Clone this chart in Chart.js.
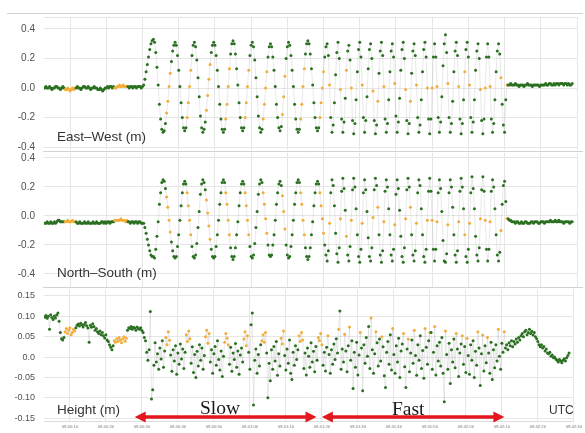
<!DOCTYPE html>
<html><head><meta charset="utf-8">
<script src="https://cdn.jsdelivr.net/npm/chart.js@4.4.1/dist/chart.umd.min.js"></script>
<style>
html,body{margin:0;padding:0;background:#fff;width:585px;height:433px;overflow:hidden;font-family:"Liberation Sans",Arial,sans-serif;}
#wrap{position:relative;width:585px;height:433px;overflow:hidden;}
canvas{position:absolute;left:0;}
.sep{position:absolute;height:1px;background:#d2d2d2;}
.lbl{position:absolute;font-size:13.5px;color:#333;line-height:1;white-space:nowrap;}
.ph{position:absolute;font-family:"Liberation Serif","Times New Roman",serif;font-size:19.5px;color:#1a1a1a;line-height:1;white-space:nowrap;}
</style></head><body><div id="wrap">
<div class="sep" style="top:13px;left:7px;width:576px"></div>
<div class="sep" style="top:151px;left:43px;width:540px"></div>
<div class="sep" style="top:287px;left:43px;width:540px"></div>
<canvas id="c1" width="585" height="165" style="top:1px"></canvas>
<canvas id="c2" width="585" height="166" style="top:137px"></canvas>
<canvas id="c3" width="585" height="164" style="top:273px"></canvas>
<div class="lbl" style="left:57px;top:130px">East–West (m)</div>
<div class="lbl" style="left:57px;top:266px">North–South (m)</div>
<div class="lbl" style="left:57px;top:403px">Height (m)</div>
<div class="lbl" style="left:549px;top:404px;font-size:12px">UTC</div>
<div class="ph" style="left:200px;top:398px">Slow</div>
<div class="ph" style="left:392px;top:399px">Fast</div>
</div>
<script>
// sampling grid (seconds relative to first labelled tick)
const t0 = -7, dt = 1/3;
const xTickValues = [0,10,20,30,40,50,60,70,80,90,100,110,120,130,140];
const xTickLabels = ['09:40:10','09:40:20','09:40:30','09:40:40','09:40:50','09:41:00','09:41:10','09:41:20','09:41:30','09:41:40','09:41:50','09:42:00','09:42:10','09:42:20','09:42:30'];
const posTicks = [-0.4,-0.2,0,0.2,0.4];
const posTickLabels = ['-0.4','-0.2','0.0','0.2','0.4'];
const hTicks = [-0.15,-0.1,-0.05,0,0.05,0.1,0.15];
const hTickLabels = ['-0.15','-0.10','-0.05','0.0','0.05','0.10','0.15'];
// epochs with float (non-fixed) solutions
const floatRanges = [[17,25],[58,68],[101,104],[118,121],[134,137],[150,153],[166,169],[181,184],[197,199],[212,215],[228,231]];
const floatEpochs = [236,245,250,254,263,272,276,281,290,299,303,308,317,321,325,334,343,348,352,361,365,369,378,383];
// motion phases (seconds)
const phases = [{name:'Slow',from:18,to:68.5},{name:'Fast',from:70,to:120.7}];

const eastWest = [
 0,.01,0,0,.01,0,-.01,0,0,.01,.01,0,0,-.01,0,.01,0,
 -.01,-.01,0,-.01,-.02,-.01,0,-.01,0,
 0,.01,0,0,-.01,0,.01,.01,0,0,.01,0,-.01,0,0,.01,0,0,-.01,-.01,0,-.01,-.02,-.01,0,0,.01,0,.01,.01,0,.01,0,0,
 .01,.01,.02,.01,.01,.02,.01,.01,.01,
 .01,0,.01,.01,0,.01,.01,0,.01,.01,.01,0,.01,
 .02,.06,.11,.16,.21,.26,.30,.32,.33,
 .31,.24,.14,.02,-.11,-.21,-.28,-.30, -.29,-.24,-.17,-.09,.01,.10,.18,.25,.29,.31,
 .29,.22,.12,.01,-.10,-.20,-.27,-.29, -.27,-.20,-.10,.01,.12,.22,.29,.31,
 .28,.19,.07,-.06,-.19,-.27,-.30, -.28,-.23,-.15,-.05,.06,.16,.24,.29,.31,
 .29,.22,.12,.01,-.11,-.21,-.28,-.30, -.28,-.21,-.11,.01,.13,.23,.30,.32,
 .30,.23,.13,.02,-.10,-.20,-.27,-.29, -.27,-.20,-.10,.01,.12,.22,.29,.31,
 .28,.19,.07,-.06,-.19,-.27,-.30, -.28,-.21,-.11,0,.11,.21,.28,.30,
 .28,.21,.12,.01,-.11,-.20,-.27,-.29, -.26,-.18,-.06,.08,.20,.28,.31,
 .29,.22,.12,.01,-.11,-.21,-.28,-.30, -.28,-.21,-.11,.01,.13,.23,.30,.32,
 .30,.23,.13,.02,-.10,-.20,-.27,-.29, -.27,-.20,-.10,0,.11,.21,.28,.30,
 .22,.02,-.20,-.30, -.25,-.10,.09,.24,.31,
 .20,-.01,-.21,-.30, -.23,-.07,.12,.25,.29,
 .19,.00,-.22,-.31, -.24,-.08,.11,.26,.31,
 .21,.02,-.20,-.30, -.22,-.06,.13,.26,.30,
 .20,-.02,-.22,-.31, -.25,-.09,.10,.25,.31,
 .22,.01,-.21,-.30, -.24,-.08,.11,.25,.30,
 .21,.03,-.19,-.30, -.23,-.07,.12,.26,.31,
 .20,-.01,-.22,-.31, -.24,-.09,.10,.25,.30,
 .22,.02,-.20,-.30, -.25,-.08,.11,.26,.31,
 .21,.00,-.21,-.31, -.21,.00,.21,.30,
 .21,.01,-.20,-.30, -.23,-.06,.15,.30,.36,
 .24,.03,-.20,-.30, -.24,-.09,.11,.25,.31,
 .22,.01,-.21,-.31, -.24,-.08,.11,.26,.31,
 .21,.02,-.20,-.30, -.23,-.08,.12,.25,.30,
 .20,-.01,-.22,-.31, -.21,.00,.21,.30,
 .21,.01,-.21,-.30, -.24,-.08,.11,.25,.30,
 .23,.07,-.11,-.25,-.30, -.08,.02,
 .02,.02,.03,.02,.02,.02,.03,.02,.02,.01,
 .02,.02,.02,.01,.02,.02,.03,.02,.02,.02,
 .01,.02,.02,.02,.02,.02,.01,.02,.02,.02,
 .02,.03,.02,.02,.03,.03,.02,.02,.03,.02,
 .03,.03,.02,.03,.03,.03,.02,.03,.03,.02,
 .03,.02,.02,.03
];

const northSouth = [
 -.05,-.05,-.04,-.05,-.05,-.04,-.05,-.05,-.04,-.05,-.04,-.03,-.03,-.04,-.04,-.04,-.04,
 -.04,-.04,-.03,-.04,-.04,-.04,-.03,-.04,-.04,
 -.04,-.05,-.05,-.04,-.05,-.05,-.05,-.04,-.05,-.05,-.04,-.05,-.05,-.05,-.04,-.05,-.05,-.04,-.05,-.05,-.05,-.04,-.04,-.05,-.04,-.05,-.04,-.04,-.05,-.04,-.04,-.04,-.03,-.03,
 -.03,-.03,-.03,-.02,-.03,-.03,-.03,-.04,-.03,
 -.04,-.04,-.05,-.04,-.04,-.05,-.04,-.04,-.05,-.04,-.04,-.05,-.05,
 -.05,-.08,-.12,-.16,-.20,-.24,-.27,-.28,-.28,
 -.29,-.23,-.14,-.04,.08,.16,.23,.25, .24,.19,.13,.06,-.03,-.11,-.18,-.24,-.28,-.29,
 -.28,-.21,-.13,-.03,.07,.16,.22,.24, .22,.16,.07,-.03,-.13,-.21,-.28,-.29,
 -.27,-.19,-.08,.03,.15,.22,.25, .23,.18,.11,.02,-.07,-.16,-.23,-.28,-.29,
 -.28,-.21,-.13,-.03,.08,.16,.23,.25, .23,.16,.08,-.03,-.13,-.22,-.28,-.30,
 -.28,-.22,-.13,-.04,.07,.16,.22,.24, .22,.16,.07,-.03,-.13,-.21,-.28,-.29,
 -.27,-.19,-.08,.03,.15,.22,.25, .23,.16,.08,-.02,-.12,-.20,-.27,-.28,
 -.27,-.20,-.13,-.03,.08,.16,.22,.24, .21,.14,.03,-.09,-.20,-.27,-.29,
 -.28,-.21,-.13,-.03,.08,.16,.23,.25, .23,.16,.08,-.03,-.13,-.22,-.28,-.30,
 -.28,-.22,-.13,-.04,.07,.16,.22,.24, .22,.16,.07,-.02,-.12,-.20,-.27,-.31,
 -.24,-.05,.16,.25, .21,.07,-.12,-.26,-.32,
 -.22,-.02,.17,.26, .19,.04,-.14,-.27,-.31,
 -.21,-.03,.18,.26, .20,.05,-.13,-.28,-.32,
 -.23,-.05,.16,.25, .18,.03,-.15,-.28,-.31,
 -.22,-.01,.18,.26, .21,.06,-.13,-.27,-.32,
 -.24,-.04,.17,.25, .20,.05,-.13,-.27,-.31,
 -.23,-.06,.15,.25, .19,.04,-.14,-.28,-.32,
 -.22,-.02,.18,.26, .20,.06,-.13,-.27,-.31,
 -.24,-.05,.16,.25, .21,.05,-.13,-.28,-.32,
 -.23,-.03,.17,.26, .17,-.03,-.23,-.31,
 -.23,-.04,.16,.25, .19,.03,-.17,-.31,-.32,
 -.26,-.06,.16,.25, .20,.06,-.13,-.27,-.32,
 -.24,-.04,.17,.26, .20,.05,-.13,-.28,-.32,
 -.23,-.05,.16,.27, .19,.05,-.14,-.27,-.31,
 -.22,-.02,.18,.27, .17,-.03,-.23,-.31,
 -.23,-.04,.17,.25, .20,.05,-.13,-.27,-.31,
 -.25,-.10,.08,.21,.24, .10,-.02,
 -.02,-.03,-.03,-.04,-.04,-.04,-.05,-.04,-.04,-.05,
 -.05,-.04,-.05,-.05,-.04,-.04,-.05,-.05,-.05,-.04,
 -.04,-.05,-.04,-.04,-.04,-.05,-.05,-.04,-.04,-.04,
 -.05,-.04,-.04,-.04,-.04,-.03,-.04,-.04,-.04,-.03,
 -.04,-.04,-.03,-.04,-.04,-.04,-.05,-.04,-.04,-.04,
 -.04,-.05,-.04,-.04
];

const height = [
 .098,.102,.095,.100,.068,.104,.097,.092,.101,.096,.103,.108, .088,.060,.045,.042,.048,
 .062,.070,.058,.066,.072,.055,.060,.068,.064,
 .072,.078,.081,.076,.083,.079,.074,.080,.085,.077,.071,.036,.078,.073,.082,.075,.066,.070,.062,.058,.064,.055,
 .060,.052,.047,.055,.042,.038,.030,.024,.018,.028,
 .040,.036,.045,.038,.048,.042,.035,.044,.050,.039,.046,
 .066,.072,.070,.075,.068,.073,.071,.066,.074,.070,.068,.072,.065,.060,.048,
 .040,.012,-.008,.018,.112,-.103,
 -.080,-.020,.035,-.012,.008,-.030,.022,-.005,.040,-.025,
 .015,.048,.030,.062,.041,.005,-.035,.018,-.010,.028,
 -.042,.010,-.018,.032,-.005,.020,-.028,.012,.055,.038,
 .064,.045,-.015,.025,-.038,.006,-.050,.014,-.022,.030,
 -.008,.022,-.030,.004,.050,.066,.034,.058,-.012,.018,
 -.040,.008,.026,-.020,.040,-.006,-.032,.015,-.048,.002,
 .036,.058,.046,.030,-.018,.024,-.035,.010,-.006,.033,
 -.025,.015,-.042,.005,.022,-.012,.044,.062,.028,.052,
 .012,-.030,.079,.108,-.118,-.008,.020,-.040,.006,-.022,
 .030,.040,.055,.036,.060,.010,-.100,-.015,-.058,.018,
 -.030,.026,-.010,.038,-.045,.008,-.022,.046,.032,.064,
 .004,-.032,.020,-.015,.042,-.040,-.055,.012,-.020,.028,
 -.006,.018,.052,.038,.060,.042,-.028,.010,-.044,.022,
 .002,-.025,.035,-.012,.014,-.036,.026,-.008,.048,.040,
 .058,.030,-.020,.012,-.034,.024,.052,.006,-.040,.018,
 -.018,.032,-.006,.045,.010,.068,.113,-.030,.020,-.012,
 .056,.015,-.036,.028,.074,-.008,.040,-.077,.012,-.025,
 .036,-.044,.005,.060,.022,-.083,.030,-.015,.048,.002,
 .075,-.028,.096,.018,-.040,.008,.062,.035,-.022,.044,
 -.010,.050,.025,-.046,-.075,.012,.038,-.018,.055,-.032,
 .070,.006,-.040,.028,-.012,.046,-.050,.015,.032,.058,
 -.024,-.075,.020,.044,-.036,.010,.042,-.015,.066,.004,
 -.045,.030,-.008,.052,-.028,.016,-.052,.070,.024,-.018,
 .040,.060,.060,-.030,.012,.075,-.044,.028,-.010,.036,
 -.022,.048,-.040,-.110,.064,.006,-.030,.034,-.065,.018,
 -.012,.044,-.026,.058,.020,-.048,.010,.032,.052,-.018,
 .026,-.038,.046,.004,-.042,.030,-.008,.040,-.050,.014,
 -.020,.062,.022,-.070,.008,.054,-.034,.028,-.014,.048,
 .010,-.040,.036,-.055,.018,-.026,.030,-.010,.068,.002,
 -.030,.034,.012,.062,
 .022,.030,.018,.035,.028,.040,.025,.038,.032,.044,.036,.048,.042,
 .052,.058,.050,.062,.066,.055,.060,.068,.058,.063,.054,.060,.050,.045,
 .038,.030,.025,.030,.022,.026,.015,.020,.010,.008,.012,.002,.005,-.002,.000,
 -.005,-.008,-.012,-.006,-.010,-.014,-.008,-.004,-.010,-.002,.004,.010
];

const GREEN = '#2a7020', ORANGE = '#f2ad3a';
const floatSet = new Set(floatEpochs);
floatRanges.forEach(([a,b]) => { for (let i=a;i<=b;i++) floatSet.add(i); });

function toPoints(vals){ return vals.map((v,i)=>({x: t0 + i*dt, y: v})); }

const phaseArrows = {
  id:'phaseArrows',
  afterDatasetsDraw(chart){
    const {ctx, chartArea} = chart; const x = chart.scales.x;
    const y = chartArea.bottom - 4;
    ctx.save();
    ctx.fillStyle = '#e3171c'; ctx.strokeStyle = '#e3171c'; ctx.lineWidth = 3.5;
    phases.forEach(p => {
      const a = x.getPixelForValue(p.from), b = x.getPixelForValue(p.to);
      const h = 11, w = 5.5;
      ctx.beginPath(); ctx.moveTo(a+h-1,y); ctx.lineTo(b-h+1,y); ctx.stroke();
      ctx.beginPath(); ctx.moveTo(a,y); ctx.lineTo(a+h,y-w); ctx.lineTo(a+h,y+w); ctx.closePath(); ctx.fill();
      ctx.beginPath(); ctx.moveTo(b,y); ctx.lineTo(b-h,y-w); ctx.lineTo(b-h,y+w); ctx.closePath(); ctx.fill();
    });
    ctx.restore();
  }
};

function makeChart(id, vals, yMin, yMax, ticks, labels, fontSize, bottomAxis, extraTop){
  const yT = extraTop ? ticks.concat([yMax]) : ticks;
  return new Chart(document.getElementById(id), {
    type:'line',
    data:{datasets:[{
      data: toPoints(vals),
      borderColor:'rgba(150,150,150,0.35)', borderWidth:0.6,
      pointRadius:1.5, pointBorderWidth:0, pointHoverRadius:1.5,
      pointBackgroundColor: c => floatSet.has(c.dataIndex) ? ORANGE : GREEN,
      tension:0
    }]},
    plugins: bottomAxis ? [phaseArrows] : [],
    options:{
      responsive:false, maintainAspectRatio:false, animation:false, events:[],
      layout:{padding:{top:16,bottom:bottomAxis?4:16,left:0,right:8}},
      plugins:{legend:{display:false},tooltip:{enabled:false}},
      scales:{
        x:{type:'linear', min:-7.2, max:140,
          afterBuildTicks: s => { s.ticks = xTickValues.map(v=>({value:v})); },
          afterFit: s => { s.height = bottomAxis ? 12 : 0; },
          grid:{color:'#e6e6e6', drawTicks:false},
          border:{display:bottomAxis, color:'#dcdcdc'},
          ticks:{display:bottomAxis, padding:3, color:'#7a7a7a', font:{size:4.2},
            maxRotation:0, autoSkip:false,
            callback: v => { const k = xTickValues.indexOf(v); return k>=0 ? xTickLabels[k] : ''; }}
        },
        y:{min:yMin, max:yMax,
          afterBuildTicks: s => { s.ticks = yT.map(v=>({value:v})); },
          afterFit: s => { s.width = 44; },
          grid:{color:'#e6e6e6', drawTicks:false},
          border:{display:false},
          ticks:{padding:9, color:'#505050', autoSkip:false,
            font:{size:fontSize, family:'"Liberation Sans", Arial, sans-serif'},
            callback: v => { const k = ticks.indexOf(v); return k>=0 ? labels[k] : ''; }}
        }
      }
    }
  });
}

makeChart('c1', eastWest, -0.42, 0.481, posTicks, posTickLabels, 10, false, true);
makeChart('c2', northSouth, -0.49, 0.434, posTicks, posTickLabels, 10, false, false);
makeChart('c3', height, -0.157, 0.167, hTicks, hTickLabels, 9, true, false);
</script>
</body></html>
